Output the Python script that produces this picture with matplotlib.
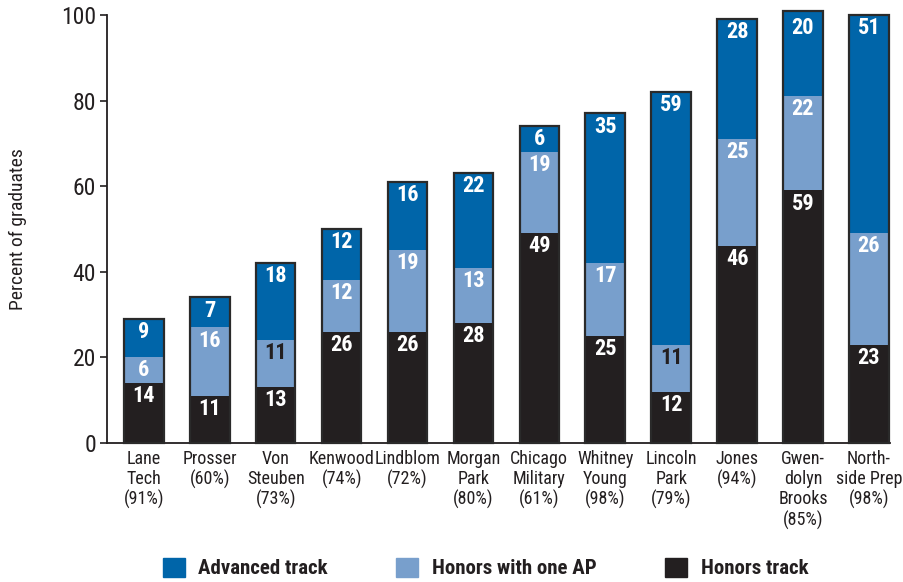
import matplotlib
matplotlib.use("Agg")
import matplotlib.pyplot as plt
from matplotlib.patches import Patch
from matplotlib import font_manager

names = {f.name for f in font_manager.fontManager.ttflist}
FONT = next((n for n in ['Roboto Condensed', 'Archivo Narrow', 'PT Sans Narrow',
                          'Liberation Sans Narrow', 'Liberation Sans'] if n in names), 'DejaVu Sans')
plt.rcParams['font.family'] = [FONT, 'DejaVu Sans']

schools = ["Lane\nTech\n(91%)", "Prosser\n(60%)", "Von\nSteuben\n(73%)", "Kenwood\n(74%)",
           "Lindblom\n(72%)", "Morgan\nPark\n(80%)", "Chicago\nMilitary\n(61%)", "Whitney\nYoung\n(98%)",
           "Lincoln\nPark\n(79%)", "Jones\n(94%)", "Gwen-\ndolyn\nBrooks\n(85%)", "North-\nside Prep\n(98%)"]
honors = [14, 11, 13, 26, 26, 28, 49, 25, 12, 46, 59, 23]
honors_ap = [6, 16, 11, 12, 19, 13, 19, 17, 11, 25, 22, 26]
advanced = [9, 7, 18, 12, 16, 22, 6, 35, 59, 28, 20, 51]
dark_label_ap = [False, False, True, False, False, False, False, False, True, False, False, False]

C_ADV = '#0065A9'
C_AP = '#789FCC'
C_HON = '#231F20'

fig = plt.figure(figsize=(9.04, 5.82), dpi=100)
ax = fig.add_axes([107/904, 139/582, 783/904, 428/582])

x = list(range(len(schools)))
w = 0.6
b2 = [h + a for h, a in zip(honors, honors_ap)]
tot = [h + a + d for h, a, d in zip(honors, honors_ap, advanced)]
ax.bar(x, honors, w, color=C_HON, clip_on=False, zorder=2)
ax.bar(x, honors_ap, w, bottom=honors, color=C_AP, clip_on=False, zorder=2)
ax.bar(x, advanced, w, bottom=b2, color=C_ADV, clip_on=False, zorder=2)
ax.bar(x, tot, w, fill=False, edgecolor='#2a2a2a', linewidth=1.6, clip_on=False, zorder=3)

def lab(xi, top, val, color='white'):
    ax.annotate(str(val), (xi, top), xytext=(0, -1.5), textcoords='offset points',
                ha='center', va='top', color=color, fontsize=16, fontweight='bold', zorder=4)

for i in x:
    lab(i, honors[i], honors[i])
    lab(i, b2[i], honors_ap[i], C_HON if dark_label_ap[i] else 'white')
    lab(i, min(tot[i], 100), advanced[i])

ax.set_xlim(-0.56, 11.32)
ax.set_ylim(0, 100)
ax.set_yticks([0, 20, 40, 60, 80, 100])
ax.tick_params(axis='y', labelsize=17, length=5, width=1.2, color='#231F20', labelcolor='#231F20', pad=3)
ax.set_xticks(x)
ax.set_xticklabels(schools, fontsize=13, color='#231F20', linespacing=1.15, va='top')
ax.tick_params(axis='x', length=0, pad=5)
for s in ['top', 'right']:
    ax.spines[s].set_visible(False)
for s in ['left', 'bottom']:
    ax.spines[s].set_linewidth(1.3)
    ax.spines[s].set_color('#231F20')
ax.set_ylabel('Percent of graduates', fontsize=14, color='#231F20', labelpad=24)

handles = [Patch(color=C_ADV), Patch(color=C_AP), Patch(color=C_HON)]
fig.legend(handles, ['Advanced track', 'Honors with one AP', 'Honors track'], ncol=3,
           loc='center', bbox_to_anchor=(0.537, 0.024), frameon=False,
           prop={'size': 15, 'weight': 'bold'}, handlelength=1.05, handleheight=1.05,
           columnspacing=3.3, handletextpad=0.65, labelcolor='#231F20', borderpad=0.1)

fig.savefig('out.png', dpi=100)
